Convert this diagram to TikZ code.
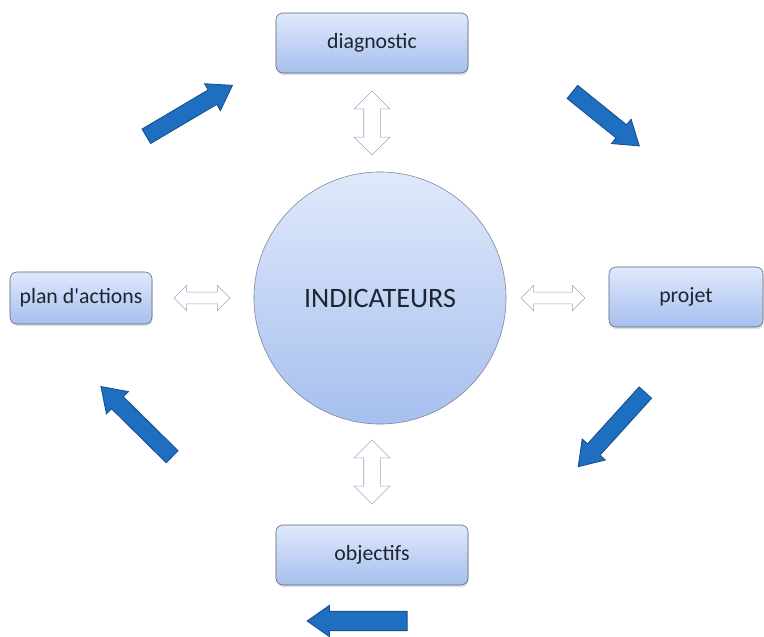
\documentclass[tikz,border=0pt]{standalone}
\usepackage{fontspec}
\setmainfont{Carlito}[Ligatures=TeXOff]
\usetikzlibrary{shapes.arrows}
\usetikzlibrary{shadows}

\definecolor{boxtop}{RGB}{224,233,251}
\definecolor{boxbottom}{RGB}{166,191,238}
\definecolor{boxline}{RGB}{90,100,124}
\definecolor{linkline}{RGB}{150,168,196}
\definecolor{turnfill}{RGB}{30,111,192}
\definecolor{turnline}{RGB}{24,78,140}
\definecolor{textcol}{RGB}{30,36,50}

\begin{document}
\begin{tikzpicture}[x=0.025cm,y=-0.025cm,text=textcol,
        main node/.style={rectangle,rounded corners=5pt,draw=boxline,top color=boxtop,bottom color=boxbottom,
            minimum height=1.5cm,font=\fontsize{15.5}{18}\selectfont,
            drop shadow={opacity=0.25,shadow xshift=0.5pt,shadow yshift=-1.5pt}},
        link arrow/.style={double arrow,draw=linkline,fill=white,inner xsep=0pt,
            inner ysep=0.2cm,double arrow head extend=0.24cm},
        turn arrow/.style={single arrow,draw=turnline,fill=turnfill,line width=0.6pt,inner xsep=0pt,
            inner ysep=0.2cm,minimum height=2.5cm,single arrow head extend=0.18cm,
            single arrow tip angle=68}]
    \useasboundingbox (0,0) rectangle (764,637);

    % centre
    \node[circle,draw=boxline!80,top color=boxtop,bottom color=boxbottom,minimum size=6.3cm,
        font=\fontsize{20}{24}\selectfont] (IND) at (380,298) {INDICATEURS};

    % four steps
    \node[main node,minimum width=4.8cm] (D) at (372,43) {diagnostic};
    \node[main node,minimum width=3.85cm] (P) at (686,297) {projet};
    \node[main node,minimum width=4.8cm] (O) at (372,555) {objectifs};
    \node[main node,minimum width=3.55cm,minimum height=1.3cm] (A) at (81,298) {plan d'actions};

    % links with the centre
    \node[link arrow,rotate=90,minimum height=1.6cm] (DL) at (372,123) {};
    \node[link arrow,rotate=90,minimum height=1.6cm] (OL) at (372,472) {};
    \node[link arrow,minimum height=1.4cm,inner ysep=0.14cm,double arrow head extend=0.17cm] (AL) at (202,298) {};
    \node[link arrow,minimum height=1.6cm,inner ysep=0.14cm,double arrow head extend=0.17cm] (PL) at (553,298) {};

    % cycle
    \node[turn arrow,rotate=30.6] (T1) at (184,114) {};
    \node[turn arrow,rotate=-38.9,minimum height=2.15cm] (T2) at (601,115) {};
    \node[turn arrow,rotate=-132.2] (T3) at (616,425) {};
    \node[turn arrow,rotate=135.4] (T4) at (141,426) {};
    \node[turn arrow,rotate=180,inner ysep=0.23cm,single arrow head extend=0.15cm,single arrow tip angle=70] (T5) at (364,621) {};
\end{tikzpicture}
\end{document}
